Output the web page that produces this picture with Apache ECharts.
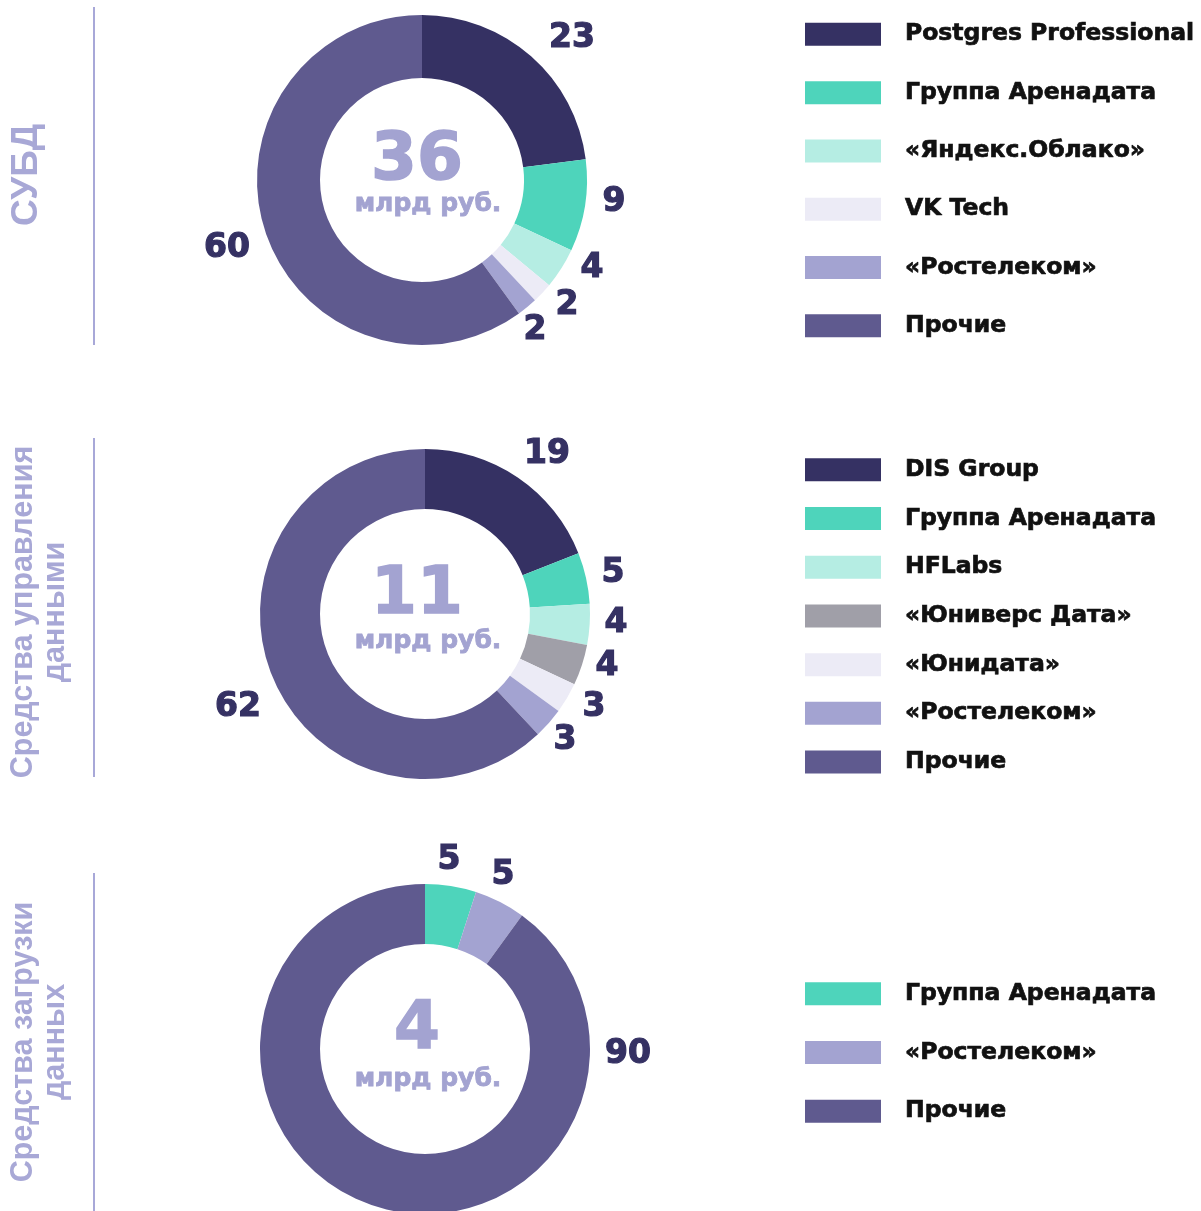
<!DOCTYPE html>
<html>
<head>
<meta charset="utf-8">
<script src="https://cdn.jsdelivr.net/npm/echarts@6/dist/echarts.min.js"></script>
<style>
html,body{margin:0;padding:0;background:#fff;}
#chart{width:1201px;height:1211px;}
</style>
</head>
<body>
<div id="chart"></div>
<script>
// ---- Data ----
const titles = ['СУБД', 'Средства управления\nданными', 'Средства загрузки\nданных'];
const totals = ['36', '11', '4'];
const unit = 'млрд руб.';

const names1 = ['Postgres Professional', 'Группа Аренадата', '«Яндекс.Облако»', 'VK Tech', '«Ростелеком»', 'Прочие'];
const values1 = [23, 9, 4, 2, 2, 60];

const names2 = ['DIS Group', 'Группа Аренадата', 'HFLabs', '«Юниверс Дата»', '«Юнидата»', '«Ростелеком»', 'Прочие'];
const values2 = [19, 5, 4, 4, 3, 3, 62];

const names3 = ['Группа Аренадата', '«Ростелеком»', 'Прочие'];
const values3 = [5, 5, 90];

// ---- Styles ----
const colorMap = {
  'Postgres Professional': '#353163',
  'DIS Group': '#353163',
  'Группа Аренадата': '#4ed4bb',
  '«Яндекс.Облако»': '#b5ede3',
  'HFLabs': '#b5ede3',
  'VK Tech': '#ecebf6',
  '«Юнидата»': '#ecebf6',
  '«Юниверс Дата»': '#a09fa8',
  '«Ростелеком»': '#a3a3d1',
  'Прочие': '#5f5a8f'
};
const centers = [[422, 180], [425, 614], [425, 1049]];
const radii = [[102, 165], [105, 165], [105, 165]];
// label offsets from pie centre (label placement, px)
const labelOffsets = [
  [[150, -142], [192, 22], [170, 88], [145, 125], [113, 150], [-195, 68]],
  [[122, -160], [188, -41], [191, 9], [182, 52], [169, 93], [140, 126], [-187, 93]],
  [[24, -189], [78, -174], [203, 5]]
];
const totalX = 417, unitX = 428;
const totalDy = [-18, -18, -18];
const unitDy = [24, 27, 30];
const legendTops = [22, 457.5, 981.5];
const legendGaps = [33.6, 24, 34];
const lineRanges = [[7, 345], [438, 777], [873, 1211]];
const titleCenters = [[27, 175], [40, 612], [40, 1042]];
const titleFonts = ['bold 37px "Liberation Sans", Arial, sans-serif', 'bold 30.5px "Liberation Sans", Arial, sans-serif', 'bold 30.5px "Liberation Sans", Arial, sans-serif'];

const allNames = [names1, names2, names3];
const allValues = [values1, values2, values3];

const chart = echarts.init(document.getElementById('chart'), null, {renderer: 'canvas'});

const series = allValues.map((vals, si) => ({
  type: 'pie',
  center: centers[si],
  radius: radii[si],
  startAngle: 90,
  clockwise: true,
  avoidLabelOverlap: false,
  silent: true,
  animation: false,
  data: vals.map((v, i) => ({
    name: allNames[si][i],
    value: v,
    itemStyle: {color: colorMap[allNames[si][i]]}
  })),
  label: {
    show: true,
    position: 'outside',
    formatter: '{c}',
    fontFamily: '"DejaVu Sans", Verdana, sans-serif',
    fontWeight: 'bold',
    fontSize: 33,
    color: '#353163',
    textBorderColor: '#353163',
    textBorderWidth: 1.2
  },
  labelLine: {show: false},
  labelLayout: function (params) {
    const off = labelOffsets[si][params.dataIndex];
    return {
      x: centers[si][0] + off[0],
      y: centers[si][1] + off[1],
      align: 'center',
      verticalAlign: 'middle'
    };
  },
  emphasis: {disabled: true}
}));

const legends = allNames.map((nm, si) => ({
  orient: 'vertical',
  left: 805,
  top: legendTops[si],
  padding: 0,
  itemWidth: 76,
  itemHeight: 23,
  itemGap: legendGaps[si],
  icon: 'rect',
  selectedMode: false,
  data: nm,
  textStyle: {
    fontFamily: '"DejaVu Sans", Verdana, sans-serif',
    fontWeight: 'bold',
    fontSize: 23.5,
    lineHeight: 23,
    color: '#111',
    textBorderColor: '#111',
    textBorderWidth: 0.7,
    padding: [0, 0, 0, 19]
  }
}));

const graphics = [];
for (let si = 0; si < 3; si++) {
  graphics.push({
    type: 'text',
    x: totalX,
    y: centers[si][1] + totalDy[si],
    silent: true,
    style: {
      text: totals[si],
      font: 'bold 66px "DejaVu Sans", Verdana, sans-serif',
      fill: '#a3a3d1',
      stroke: '#a3a3d1',
      lineWidth: 1.5,
      textAlign: 'center',
      textVerticalAlign: 'middle'
    }
  });
  graphics.push({
    type: 'text',
    x: unitX,
    y: centers[si][1] + unitDy[si],
    silent: true,
    style: {
      text: unit,
      font: 'bold 25px "DejaVu Sans", Verdana, sans-serif',
      fill: '#a3a3d1',
      stroke: '#a3a3d1',
      lineWidth: 0.8,
      textAlign: 'center',
      textVerticalAlign: 'middle'
    }
  });
  graphics.push({
    type: 'text',
    x: titleCenters[si][0],
    y: titleCenters[si][1],
    rotation: Math.PI / 2,
    silent: true,
    style: {
      text: titles[si],
      font: titleFonts[si],
      lineHeight: 32,
      fill: '#a8a8d6',
      textAlign: 'center',
      textVerticalAlign: 'middle'
    }
  });
  graphics.push({
    type: 'line',
    silent: true,
    shape: {x1: 94, y1: lineRanges[si][0], x2: 94, y2: lineRanges[si][1]},
    style: {stroke: '#a8a8d8', lineWidth: 2}
  });
}

chart.setOption({
  animation: false,
  backgroundColor: '#ffffff',
  legend: legends,
  series: series,
  graphic: graphics
});
</script>
</body>
</html>
